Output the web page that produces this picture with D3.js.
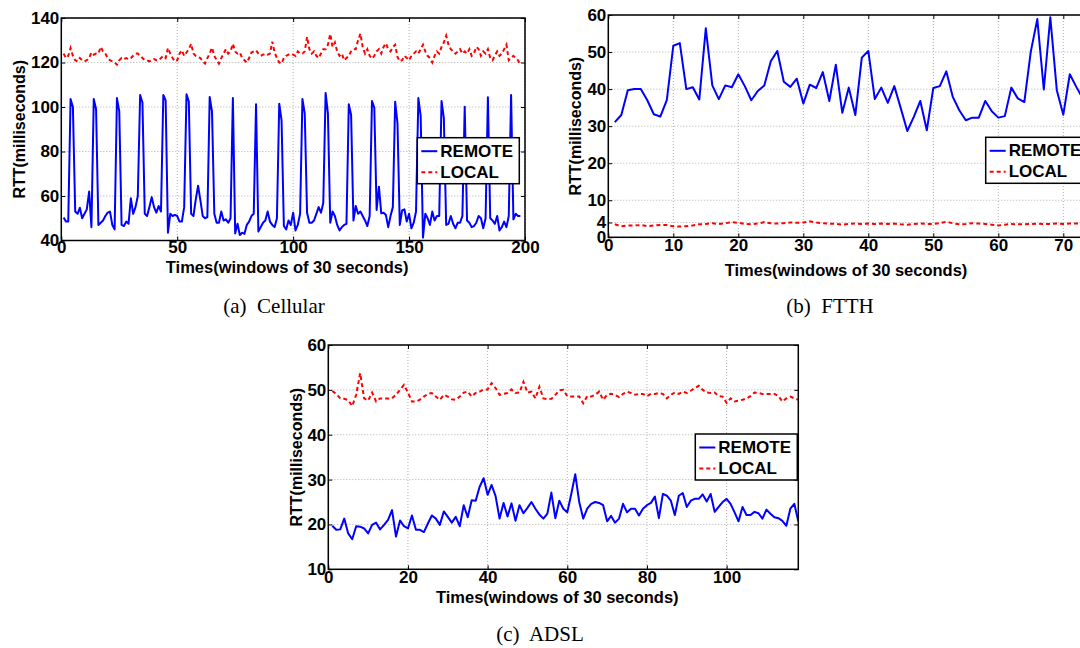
<!DOCTYPE html>
<html><head><meta charset="utf-8">
<script src="https://cdn.jsdelivr.net/npm/d3@7"></script>
<style>
body{margin:0;background:#fff}
svg{display:block}
.bold text, text.bold{font-family:"Liberation Sans",Arial,sans-serif;font-weight:bold}
</style>
</head><body>
<svg id="chart" width="1080" height="648"></svg>
<script>
// ---------- DATA ----------
const seriesNames = ["REMOTE", "LOCAL"];
const xTitle = "Times(windows of 30 seconds)";
const yTitle = "RTT(milliseconds)";

// (a) Cellular, windows 1..198
const cellRemote = [
50.3,48.5,48.5,103.6,100,53,52,54.7,50,52,
54,62,46,103.6,99,47,48,49,51,52.5,
53,47,45,104,98,47,46.5,48.5,47.5,59,
52,55,60,105.4,102,52,51,55,59.5,55,
52.5,55.5,53,105.4,103,43.5,52,51,51.5,51,
48.5,48.5,55,105.7,102.4,52,51,58.5,64.6,58,
51,50,50.5,104.5,98,52,48,48,53,49,
49.5,48,50,104,43.2,47.5,42.5,43.5,43,47,
48.5,51,52,101.2,44,46,48,49,53,48.5,
47,46,50,101.5,94,46.5,45,49,47,52.5,
44.5,47,52,103.6,97,52.5,48,48,49,52,
55,52.5,57,106.3,97,48,53,51,47,44.5,
46,47,47.5,101.2,96.4,49,55.5,52,53,51,
49,46.5,51,102.7,99.7,53.7,64.2,52.2,52.5,51.5,
46,51,55,102.4,92.7,47,53.5,54,48.5,52,
45.5,48,53,104,96,41.3,52,50,47,53,
49,51,51,102.7,95,47,47.5,51,47.5,45.5,
48,48,51,100.1,49,48,46,46.5,48,51,
50,45.5,50,104.4,50,49,47.5,51,44.5,46,
48.5,46,51,105.4,49.5,52,51,51];
const cellLocal = [
124,122,123,126.5,123,121,120.5,122,121,120.5,
121,122,124.5,123.5,124,124,127,125,124,122,
121,120.5,120,119,121,122,121.5,122,121.5,122,
123,124,124,123,122,121,121,120.5,121,121.5,
121,121,122,123,122,126.5,124,122,120.5,121,
124,125.5,123,124.5,126,128.4,124,123,122.5,122,
120.5,119.5,122,124,126.7,123,121,119.5,122,124,
126,124,125,128.4,125,124,124.5,122,121,120,
122,124.5,125,125.5,124,123,123.5,124,123.5,124,
129.4,124.5,122,120,119.5,122,123,123.5,124,123.5,
123,125,124,124,125,131.5,126,124,125,123,
122,124,126,126,128,132.8,127,129,125,123,
124,121,122,123,125,126,126,130,133,127,
124,126,123,121.7,123,125,126,124,127,128.6,
126,125,127,128,122.5,120.5,121,123,122,121,
123,124,125,124,126,128,125,123,122,120,
123,125,124,127,129,132,128,126,125,124,
125,126,124,125,124,126,123,124,127,126,
123,125,124,126,122,121,123,125,123,124,
126,128,121,122,123,122,121,119];

// (b) FTTH, windows 1..73
const ftthRemote = [
31.1,33,39.7,40,40,37,33.2,32.6,37,51.7,
52.4,40,40.5,37.2,56.4,41,37.3,41,40.5,44,
40.8,37,39.5,41,47.5,50.3,42,40.6,42.8,36.1,
41.2,40.3,44.6,36.8,46.6,33.6,40.4,33,48.5,50.3,
37.3,40.4,36.3,40.8,34.8,28.7,32.5,36.8,28.9,40.3,
40.8,44.8,37.9,34.3,31.6,32.3,32.3,36.8,34,32.3,
32.7,40.4,37.5,36.5,50.1,58.9,39.9,59.4,39.7,33.1,
44,40.6,37.5];
const ftthLocal = [
3.5,3.0,3.2,3.2,3.3,3.0,3.2,3.3,3.3,3.0,
2.9,3.0,3.2,3.5,3.6,3.8,3.6,3.8,4.1,3.9,
3.6,3.5,3.7,4.1,3.8,3.7,3.8,4.0,3.9,4.0,
4.3,4.0,3.8,3.7,3.6,3.4,3.6,3.7,3.6,3.7,
3.6,3.7,3.6,3.7,3.5,3.4,3.6,3.7,3.6,3.6,
3.8,4.2,3.8,3.5,3.6,3.8,3.7,3.6,3.4,3.2,
3.4,3.6,3.5,3.5,3.6,3.7,3.6,3.6,3.7,3.6,
3.7,3.7,3.8];

// (c) ADSL, windows 1..118
const adslRemote = [
19.7,18.8,18.9,21.3,18,16.7,19.6,19.5,19.1,18,
19.9,20.4,18.9,19.9,21,23.2,17.3,20.9,19.6,19.1,
22,18.8,18.8,18.3,20.2,22,21.3,19.9,22.9,21.7,
20.4,21.7,19.6,24.3,21.6,25.4,25.3,28.4,30.3,26.6,
28.8,26.3,21.3,24.8,21.8,24.7,20.8,24.3,22.5,23.7,
25,23.5,22.2,21.3,22.4,27.1,21.4,25.3,23.5,22.7,
26.8,31.2,25,21.3,23.5,24.6,25,24.8,24.3,20.7,
21.9,20.4,21.3,24.6,22.7,23.5,23.5,22,23.5,24.3,
24.8,26.2,21.4,26.8,26.4,25.3,22.1,26.4,27,23.9,
25.3,25.7,25.7,26.7,25.1,26.8,22.8,23.9,25,25.7,
24.6,22.7,20.7,23.9,22.1,22.1,22.8,22.5,21.3,23.3,
22.4,21.6,21.4,20.8,19.7,23.5,24.6,20.7];
const adslLocal = [
49.75,49.1,48.1,48,47.7,46.4,48.9,53.7,48.1,47.6,
49.4,47.4,48.1,48.1,48.1,48.1,48.9,50,51.1,49.4,
47.4,47.4,47.8,48.5,49.1,49.3,48.5,47.8,48.9,48.5,
47.9,47.8,48.5,49.4,49.6,48.5,49.3,49.6,50.1,50.1,
51.5,50.4,48.9,49.1,49.3,50.1,49.3,49.4,51.8,49.4,
49.6,48.1,50.7,48.1,47.9,48,48.9,49.9,50,48.6,
48.5,48.5,48.5,47,48.6,48.5,48.9,49.6,47.8,48.9,
49.1,48.9,48.4,49.1,49.6,49.3,48.9,49.1,49.1,48.6,
49.1,49.1,49.3,49.1,48.1,48.9,49.4,49.1,49.6,49.3,
49.8,50.4,50.9,50,49.4,49.3,49.4,48.6,48.5,47.1,
48.1,47.4,47.6,47.8,48.1,48.6,49.4,49.3,49.1,49.1,
49.1,49.1,48.6,47.4,48.1,48.5,48.1,47.8];

const cellXTicks = [0,50,100,150,200];
const cellYTicks = [40,60,80,100,120,140];
const ftthXTicks = [0,10,20,30,40,50,60,70];
const ftthYTicks = [0,4,10,20,30,40,50,60];
const adslXTicks = [0,20,40,60,80,100];
const adslYTicks = [10,20,30,40,50,60];
const captions = ["(a)  Cellular", "(b)  FTTH", "(c)  ADSL"];

// ---------- DRAW ----------
const svg = d3.select("#chart");
const BLUE = "#0000ff", RED = "#ff0000";
let clipN = 0;

function panel(o) {
  const g = svg.append("g").attr("class", "bold");
  const x = d3.scaleLinear().domain(o.xDomain).range([o.left, o.right]);
  const y = d3.scaleLinear().domain(o.yDomain).range([o.bottom, o.top]);

  // grid
  g.append("g").selectAll("line").data(o.xTicks).join("line")
    .attr("x1", d => x(d)).attr("x2", d => x(d))
    .attr("y1", o.top).attr("y2", o.bottom)
    .attr("stroke", "#b0b0b0").attr("stroke-width", 1).attr("stroke-dasharray", "1,2");
  g.append("g").selectAll("line").data(o.yTicks).join("line")
    .attr("y1", d => y(d)).attr("y2", d => y(d))
    .attr("x1", o.left).attr("x2", o.right)
    .attr("stroke", "#b0b0b0").attr("stroke-width", 1).attr("stroke-dasharray", "1,2");

  const id = "clip" + (clipN++);
  svg.append("clipPath").attr("id", id).append("rect")
    .attr("x", o.left).attr("y", o.top - 2)
    .attr("width", o.right - o.left).attr("height", o.bottom - o.top + 4);

  const line = d3.line().x((d, i) => x(i + 1)).y(d => y(d));
  const lg = g.append("g").attr("clip-path", `url(#${id})`);
  lg.append("path").datum(o.remote).attr("d", line)
    .attr("fill", "none").attr("stroke", BLUE).attr("stroke-width", 2).attr("stroke-linejoin", "round");
  lg.append("path").datum(o.local).attr("d", line)
    .attr("fill", "none").attr("stroke", RED).attr("stroke-width", 2).attr("stroke-dasharray", "4,3");

  const styleAxis = sel => {
    sel.select(".domain").remove();
    sel.selectAll(".tick line").attr("stroke", "#000").attr("stroke-width", 1);
    sel.selectAll("text").attr("fill", "#000").style("font-size", "17px")
      .style("font-family", "'Liberation Sans',Arial,sans-serif").style("font-weight", "bold");
  };
  g.append("g").attr("transform", `translate(0,${o.bottom})`)
    .call(d3.axisBottom(x).tickValues(o.xTicks).tickSizeInner(-4).tickSizeOuter(0).tickPadding(o.xPad))
    .call(styleAxis);
  g.append("g").attr("transform", `translate(0,${o.top})`)
    .call(d3.axisTop(x).tickValues(o.xTicks).tickFormat("").tickSizeInner(-4).tickSizeOuter(0))
    .call(styleAxis);
  g.append("g").attr("transform", `translate(${o.left},0)`)
    .call(d3.axisLeft(y).tickValues(o.yTicks).tickSizeInner(-4).tickSizeOuter(0).tickPadding(2))
    .call(styleAxis);
  g.append("g").attr("transform", `translate(${o.right},0)`)
    .call(d3.axisRight(y).tickValues(o.yTicks).tickFormat("").tickSizeInner(-4).tickSizeOuter(0))
    .call(styleAxis);

  g.append("rect").attr("x", o.left).attr("y", o.top)
    .attr("width", o.right - o.left).attr("height", o.bottom - o.top)
    .attr("fill", "none").attr("stroke", "#000").attr("stroke-width", 1.5);

  // titles
  g.append("text").attr("x", (o.left + o.right) / 2 - 6).attr("y", o.xTitleY)
    .attr("text-anchor", "middle").attr("dominant-baseline", "central")
    .style("font-size", "16.5px").text(xTitle);
  g.append("text")
    .attr("transform", `translate(${o.yTitleX},${(o.top + o.bottom) / 2}) rotate(-90)`)
    .attr("text-anchor", "middle").attr("dominant-baseline", "central")
    .style("font-size", "16px").text(yTitle);

  // legend
  const L = g.append("g").attr("transform", `translate(${o.legX},${o.legY})`);
  L.append("rect").attr("width", 102).attr("height", 46)
    .attr("fill", "#fff").attr("stroke", "#000").attr("stroke-width", 1.5);
  [[BLUE, null, 13.5], [RED, "4,3", 34.5]].forEach((s, i) => {
    L.append("line").attr("x1", 4).attr("x2", 20).attr("y1", s[2]).attr("y2", s[2])
      .attr("stroke", s[0]).attr("stroke-width", 2).attr("stroke-dasharray", s[1]);
    L.append("text").attr("x", 23).attr("y", s[2]).attr("dominant-baseline", "central")
      .style("font-size", "17px").text(seriesNames[i]);
  });

  svg.append("text").attr("x", o.capX).attr("y", o.capY).attr("text-anchor", "middle")
    .style("font-family", "'Liberation Serif','Times New Roman',serif").style("font-size", "21px")
    .attr("xml:space", "preserve").text(o.caption);
}

panel({xDomain:[0,200], yDomain:[40,140], left:61.3, right:525, top:18, bottom:240.5,
  xTicks:cellXTicks, yTicks:cellYTicks, remote:cellRemote, local:cellLocal, xPad:0,
  xTitleY:267, yTitleX:19, legX:417.3, legY:137.7, caption:captions[0], capX:274, capY:313});
panel({xDomain:[0,75], yDomain:[0,60], left:608.3, right:1095.8, top:15, bottom:237.3,
  xTicks:ftthXTicks, yTicks:ftthYTicks, remote:ftthRemote, local:ftthLocal, xPad:2,
  xTitleY:270, yTitleX:575, legX:985.7, legY:137.3, caption:captions[1], capX:830, capY:313});
panel({xDomain:[0,118], yDomain:[10,60], left:328.3, right:798.3, top:345, bottom:569.3,
  xTicks:adslXTicks, yTicks:adslYTicks, remote:adslRemote, local:adslLocal, xPad:2,
  xTitleY:597, yTitleX:296, legX:695.3, legY:434, caption:captions[2], capX:540, capY:641});
</script>
</body></html>
